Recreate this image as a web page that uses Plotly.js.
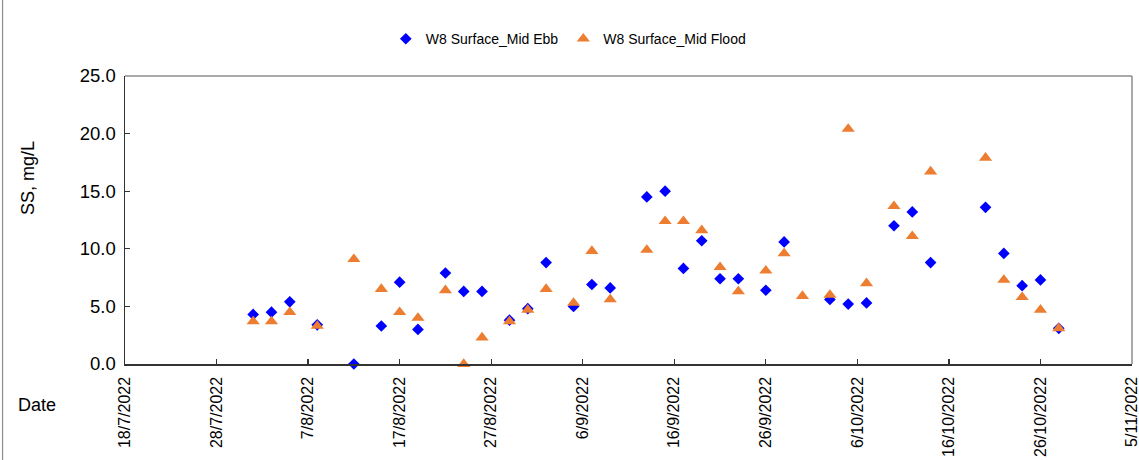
<!DOCTYPE html>
<html>
<head>
<meta charset="utf-8">
<script src="https://cdn.plot.ly/plotly-3.0.1.min.js"></script>
<style>
html,body{margin:0;padding:0;background:#fff;}
#chart{width:1139px;height:460px;}
</style>
</head>
<body>
<div id="chart"></div>
<script>
// Sampling dates
const dates = [
  '2022-08-01','2022-08-03','2022-08-05','2022-08-08','2022-08-12','2022-08-15','2022-08-17','2022-08-19',
  '2022-08-22','2022-08-24','2022-08-26','2022-08-29','2022-08-31','2022-09-02','2022-09-05','2022-09-07',
  '2022-09-09','2022-09-13','2022-09-15','2022-09-17','2022-09-19','2022-09-21','2022-09-23','2022-09-26',
  '2022-09-28','2022-09-30','2022-10-03','2022-10-05','2022-10-07','2022-10-10','2022-10-12','2022-10-14',
  '2022-10-20','2022-10-22','2022-10-24','2022-10-26','2022-10-28'
];
// SS, mg/L
const midEbb = [
  4.3, 4.5, 5.4, 3.4, 0.0, 3.3, 7.1, 3.0,
  7.9, 6.3, 6.3, 3.8, 4.8, 8.8, 5.0, 6.9,
  6.6, 14.5, 15.0, 8.3, 10.7, 7.4, 7.4, 6.4,
  10.6, null, 5.6, 5.2, 5.3, 12.0, 13.2, 8.8,
  13.6, 9.6, 6.8, 7.3, 3.1
];
const midFlood = [
  3.7, 3.7, 4.5, 3.3, 9.1, 6.5, 4.5, 4.0,
  6.4, 0.0, 2.3, 3.7, 4.7, 6.5, 5.3, 9.8,
  5.6, 9.9, 12.4, 12.4, 11.6, 8.4, 6.3, 8.1,
  9.6, 5.9, 6.0, 20.4, 7.0, 13.7, 11.1, 16.7,
  17.9, 7.3, 5.8, 4.7, 3.1
];
const seriesNames = ['W8 Surface_Mid Ebb', 'W8 Surface_Mid Flood'];
const xRange = ['2022-07-18', '2022-11-05'];
const yRange = [0, 25];
const yTitle = 'SS, mg/L';
const xTitle = 'Date';

const FONT = 'Arial, "Liberation Sans", sans-serif';

const traces = [
  {
    x: dates, y: midEbb, name: seriesNames[0], type: 'scatter', mode: 'markers',
    cliponaxis: false,
    marker: {symbol: 'diamond', size: 9, color: '#0000FF'}
  },
  {
    x: dates, y: midFlood, name: seriesNames[1], type: 'scatter', mode: 'markers',
    cliponaxis: false,
    marker: {symbol: 'triangle-up', size: 11.5, color: '#ED7D31'}
  }
];

const layout = {
  width: 1139, height: 460,
  margin: {l: 125, r: 7, t: 76, b: 96, pad: 0},
  paper_bgcolor: '#ffffff', plot_bgcolor: '#ffffff',
  font: {family: FONT, size: 18, color: '#000000'},
  showlegend: true,
  legend: {
    orientation: 'h', x: 0.259, xanchor: 'left', y: 1.128, yanchor: 'middle',
    font: {family: FONT, size: 14, color: '#000000'},
    itemwidth: 30, bgcolor: 'rgba(0,0,0,0)'
  },
  xaxis: {
    type: 'date', range: xRange, tick0: '2022-07-18', dtick: 864000000,
    tickformat: '%-d/%-m/%Y', tickangle: -90,
    ticks: 'inside', ticklen: 5, tickwidth: 1.3, tickcolor: '#333333',
    showline: true, linecolor: '#333333', linewidth: 1.5,
    showgrid: false, zeroline: false, mirror: false,
    tickfont: {family: FONT, size: 16, color: '#000000'},
    ticklabelstandoff: 5, ticklabeloverflow: 'allow'
  },
  yaxis: {
    range: yRange, dtick: 5, tickformat: '.1f',
    ticks: 'inside', ticklen: 5, tickwidth: 1.3, tickcolor: '#333333',
    showline: true, linecolor: '#333333', linewidth: 1.5,
    showgrid: false, zeroline: false, mirror: false,
    tickfont: {family: FONT, size: 18.5, color: '#000000'},
    ticklabelstandoff: 4
  },
  shapes: [
    {type: 'line', xref: 'paper', yref: 'paper', x0: 0, x1: 1, y0: 1, y1: 1,
     line: {color: '#8c8c8c', width: 1.5}},
    {type: 'line', xref: 'paper', yref: 'paper', x0: 1, x1: 1, y0: 0, y1: 1,
     line: {color: '#8c8c8c', width: 1.5}},
    {type: 'line', xref: 'paper', yref: 'paper', x0: -0.1216, x1: -0.1216, y0: -0.34, y1: 1.27,
     line: {color: '#8c8c8c', width: 1.2}}
  ],
  annotations: [
    {text: yTitle, xref: 'paper', yref: 'paper', x: -0.0963, y: 0.646,
     xanchor: 'center', yanchor: 'middle', textangle: -90, showarrow: false,
     font: {family: FONT, size: 18, color: '#000000'}},
    {text: xTitle, xref: 'paper', yref: 'paper', x: -0.0874, y: -0.1424,
     xanchor: 'center', yanchor: 'middle', showarrow: false,
     font: {family: FONT, size: 18, color: '#000000'}}
  ]
};

Plotly.newPlot('chart', traces, layout, {displayModeBar: false, staticPlot: true});
</script>
</body>
</html>
